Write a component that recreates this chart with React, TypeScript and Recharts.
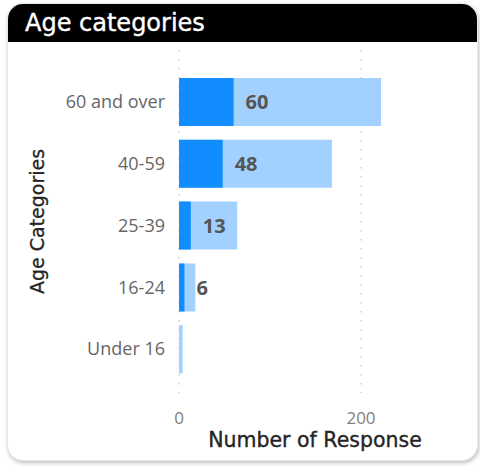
import React from "react";
import { BarChart, Bar, XAxis, YAxis, CartesianGrid, LabelList, Label } from "recharts";

// categories top to bottom
const ageGroups = ["60 and over", "40-59", "25-39", "16-24", "Under 16"];
// light bar (total) and dark bar (highlighted count)
const totalResponses = [222, 168, 64, 18, 4];
const selectedResponses = [60, 48, 13, 6, 0];
const xTicks = [0, 200];

const data = ageGroups.map((group, i) => ({
    group,
    total: totalResponses[i],
    selected: selectedResponses[i],
}));

const BODY_FONT = "'Open Sans', 'Noto Sans', sans-serif";
const TITLE_FONT = "'DejaVu Sans', sans-serif";

const YTitle = ({ viewBox }: any) => {
    const cy = viewBox.y + viewBox.height / 2;
    return (
        <text
            x={29}
            y={cy}
            transform={`rotate(-90, 29, ${cy})`}
            textAnchor="middle"
            dominantBaseline="central"
            fill="#252423"
            stroke="#252423"
            strokeWidth={0.3}
            fontSize={19}
            fontFamily={TITLE_FONT}
        >
            Age Categories
        </text>
    );
};

const XTitle = ({ viewBox }: any) => (
    <text
        x={307}
        y={viewBox.y + 47}
        textAnchor="middle"
        dominantBaseline="central"
        fill="#252423"
        stroke="#252423"
        strokeWidth={0.35}
        fontSize={20.5}
        fontFamily={TITLE_FONT}
    >
        Number of Response
    </text>
);

export default function App() {
    return (
        <div
            style={{
                position: "absolute",
                left: 7,
                top: 3,
                width: 469,
                height: 456,
                borderRadius: 16,
                border: "1px solid #e8e8e8",
                boxShadow: "1px 2px 4px rgba(0,0,0,0.25)",
                background: "#fff",
                overflow: "hidden",
            }}
        >
            <div
                style={{
                    height: 38,
                    background: "#000",
                    color: "#fff",
                    fontFamily: TITLE_FONT,
                    fontSize: 24,
                    lineHeight: "38px",
                    paddingLeft: 17,
                    WebkitTextStroke: "0.4px #fff",
                }}
            >
                Age categories
            </div>
            <BarChart
                width={469}
                height={418}
                data={data}
                layout="vertical"
                margin={{ top: 8, right: 70.5, bottom: 0, left: 0 }}
                barGap={-48}
            >
                <CartesianGrid
                    horizontal={false}
                    verticalValues={xTicks}
                    stroke="#b8b8b8"
                    strokeDasharray="1.5 7.5"
                />
                <XAxis
                    type="number"
                    domain={[0, 250]}
                    ticks={xTicks}
                    axisLine={false}
                    tickLine={false}
                    tickMargin={13}
                    height={67}
                    tick={{ fill: "#808080", fontSize: 17, fontFamily: BODY_FONT }}
                >
                    <Label content={<XTitle />} />
                </XAxis>
                <YAxis
                    type="category"
                    dataKey="group"
                    width={171}
                    axisLine={false}
                    tickLine={false}
                    tickMargin={8}
                    padding={{ top: 21, bottom: 13 }}
                    tick={{ fill: "#666", fontSize: 18, fontFamily: BODY_FONT }}
                >
                    <Label content={<YTitle />} />
                </YAxis>
                <Bar dataKey="total" fill="#a3d1ff" barSize={48} isAnimationActive={false} />
                <Bar dataKey="selected" fill="#118dff" barSize={48} isAnimationActive={false}>
                    <LabelList
                        dataKey="selected"
                        position="right"
                        offset={12}
                        formatter={(v: any) => (v ? v : "")}
                        fill="#555"
                        fontSize={20}
                        fontWeight={700}
                        fontFamily={BODY_FONT}
                    />
                </Bar>
            </BarChart>
        </div>
    );
}
